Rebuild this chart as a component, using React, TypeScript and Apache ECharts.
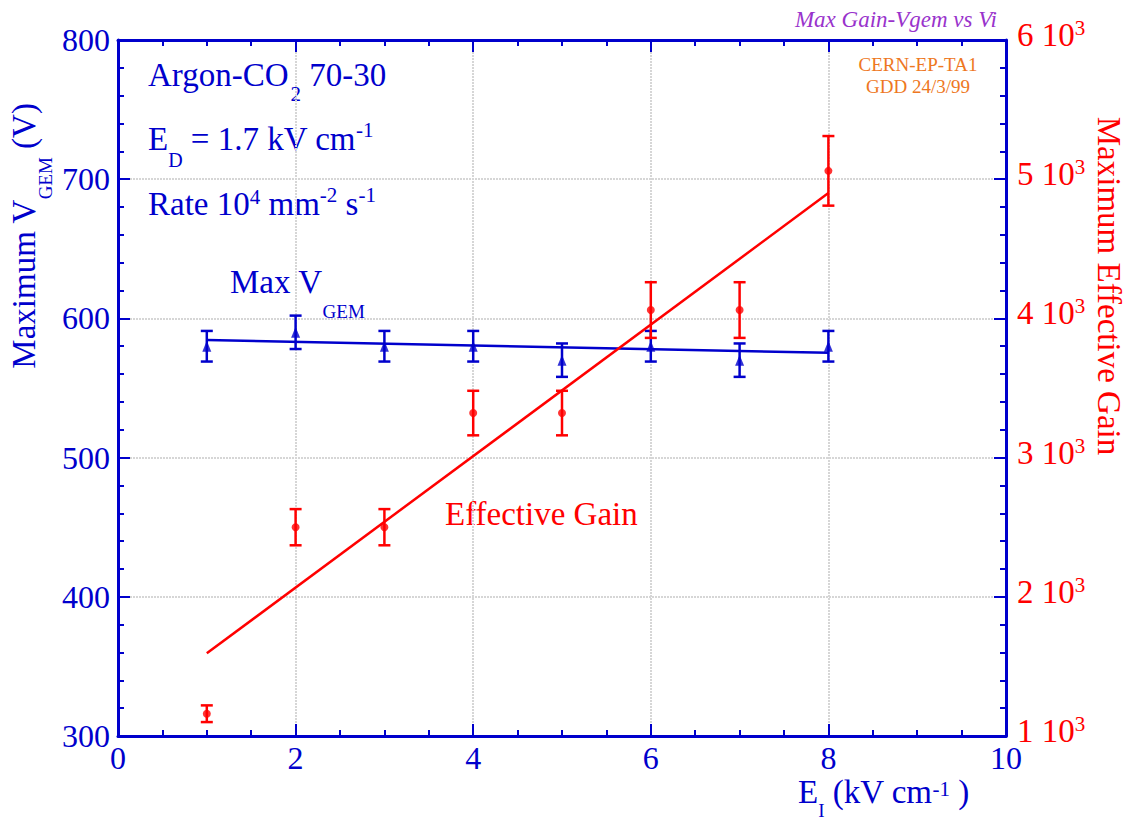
import React, { useEffect, useRef } from 'react';
import * as echarts from 'echarts';

// ---- data ----
const FIELD = [1, 2, 3, 4, 5, 6, 7, 8]; // E_I (kV/cm)
const VGEM = [580, 590, 580, 580, 570, 580, 570, 580]; // Max V_GEM (V)
const VGEM_ERR = [11, 12, 11, 11, 12, 11, 12, 11];
const GAIN = [1160, 2500, 2500, 3320, 3320, 4060, 4060, 5060]; // effective gain
const GAIN_ERR = [60, 130, 130, 160, 160, 200, 200, 250];
const FIT_X = [1, 8];
const VGEM_FIT = [584.5, 575.3];
const GAIN_FIT = [1594, 4900];
const GAIN_TICK_MANTISSA = ['1', '2', '3', '4', '5', '6'];

const FONT = 'Liberation Serif';
const BLUE = '#0000cc';
const RED = '#ff0000';
const GRID = '#d6d6d6';
const MAIN = 33;

function errRender(color: string) {
  return (params: any, api: any) => {
    const x = api.value(0);
    const y = api.value(1);
    const e = api.value(2);
    const top = api.coord([x, y + e]);
    const bot = api.coord([x, y - e]);
    const hw = 6;
    const style = { stroke: color, lineWidth: 2.5 };
    return {
      type: 'group',
      children: [
        { type: 'line', shape: { x1: top[0], y1: top[1], x2: bot[0], y2: bot[1] }, style },
        { type: 'line', shape: { x1: top[0] - hw, y1: top[1], x2: top[0] + hw, y2: top[1] }, style },
        { type: 'line', shape: { x1: bot[0] - hw, y1: bot[1], x2: bot[0] + hw, y2: bot[1] }, style },
      ],
    };
  };
}

function txt(text: string, x: number, y: number, color: string, extraRich: any, opts: any = {}) {
  return {
    type: 'text',
    x,
    y,
    rotation: opts.rotation || 0,
    silent: true,
    style: {
      text,
      fill: color,
      fontFamily: FONT,
      fontSize: MAIN,
      align: opts.align || 'left',
      verticalAlign: 'middle',
      rich: { m: { fontSize: MAIN, fontFamily: FONT, fill: color, color }, ...extraRich },
    },
  };
}

const sub = (fs: number, d: number, color: string, left = 0) => ({
  fontSize: fs,
  fontFamily: FONT,
  fill: color,
  color,
  padding: [d, 0, 0, left],
});
const sup = (fs: number, u: number, color: string) => ({
  fontSize: fs,
  fontFamily: FONT,
  fill: color,
  color,
  padding: [0, 0, u, 0],
});

export default function App() {
  const ref = useRef<HTMLDivElement>(null);

  useEffect(() => {
    if (!ref.current) return;
    const chart = echarts.init(ref.current, undefined, { renderer: 'svg' });

    const axisTickCommon = {
      show: true,
      inside: true,
      length: 12,
      lineStyle: { color: BLUE, width: 2 },
    };
    const minorTickCommon = {
      show: true,
      length: 6,
      lineStyle: { color: BLUE, width: 2 },
    };
    const axisLineCommon = { show: true, onZero: false, lineStyle: { color: BLUE, width: 3 } };
    const splitLineCommon = { show: true, lineStyle: { color: GRID, width: 2, type: [2, 1] as any } };

    const option: any = {
      animation: false,
      grid: { left: 118, right: 125, top: 40, bottom: 87, containLabel: false, outerBoundsMode: 'none' },
      xAxis: [
        {
          type: 'value',
          position: 'bottom',
          min: 0,
          max: 10,
          interval: 2,
          axisLine: axisLineCommon,
          axisTick: axisTickCommon,
          minorTick: { ...minorTickCommon, splitNumber: 4 },
          splitLine: splitLineCommon,
          axisLabel: { fontFamily: FONT, fontSize: 32, color: BLUE, margin: 6 },
        },
        {
          type: 'value',
          position: 'top',
          min: 0,
          max: 10,
          interval: 2,
          axisLine: axisLineCommon,
          axisTick: axisTickCommon,
          minorTick: { ...minorTickCommon, splitNumber: 4 },
          splitLine: { show: false },
          axisLabel: { show: false },
        },
      ],
      yAxis: [
        {
          type: 'value',
          position: 'left',
          min: 300,
          max: 800,
          interval: 100,
          axisLine: axisLineCommon,
          axisTick: axisTickCommon,
          minorTick: { ...minorTickCommon, splitNumber: 5 },
          splitLine: splitLineCommon,
          axisLabel: { fontFamily: FONT, fontSize: 32, color: BLUE, margin: 8 },
        },
        {
          type: 'value',
          position: 'right',
          min: 1000,
          max: 6000,
          interval: 1000,
          axisLine: axisLineCommon,
          axisTick: axisTickCommon,
          minorTick: { ...minorTickCommon, splitNumber: 5 },
          splitLine: { show: false },
          axisLabel: {
            margin: 11,
            padding: [0, 0, 10, 0],
            formatter: (v: number) => `{n|${GAIN_TICK_MANTISSA[Math.round(v / 1000) - 1]} 10}{s|3}`,
            rich: {
              n: { fontFamily: FONT, fontSize: 33, color: RED },
              s: { fontFamily: FONT, fontSize: 21, color: RED, padding: [0, 0, 14, 0] },
            },
          },
        },
      ],
      series: [
        {
          name: 'Max VGEM fit',
          type: 'line',
          xAxisIndex: 0,
          yAxisIndex: 0,
          data: FIT_X.map((x, i) => [x, VGEM_FIT[i]]),
          showSymbol: false,
          symbol: 'none',
          lineStyle: { color: BLUE, width: 2.5 },
          z: 2,
        },
        {
          name: 'Max VGEM err',
          type: 'custom',
          xAxisIndex: 0,
          yAxisIndex: 0,
          data: FIELD.map((x, i) => [x, VGEM[i], VGEM_ERR[i]]),
          renderItem: errRender(BLUE),
          z: 3,
        },
        {
          name: 'Max VGEM',
          type: 'scatter',
          xAxisIndex: 0,
          yAxisIndex: 0,
          data: FIELD.map((x, i) => [x, VGEM[i]]),
          symbol: 'triangle',
          symbolSize: [9, 11],
          itemStyle: { color: BLUE },
          z: 4,
        },
        {
          name: 'Gain fit',
          type: 'line',
          xAxisIndex: 0,
          yAxisIndex: 1,
          data: FIT_X.map((x, i) => [x, GAIN_FIT[i]]),
          showSymbol: false,
          symbol: 'none',
          lineStyle: { color: RED, width: 2.5 },
          z: 5,
        },
        {
          name: 'Gain err',
          type: 'custom',
          xAxisIndex: 0,
          yAxisIndex: 1,
          data: FIELD.map((x, i) => [x, GAIN[i], GAIN_ERR[i]]),
          renderItem: errRender(RED),
          z: 6,
        },
        {
          name: 'Effective Gain',
          type: 'scatter',
          xAxisIndex: 0,
          yAxisIndex: 1,
          data: FIELD.map((x, i) => [x, GAIN[i]]),
          symbol: 'circle',
          symbolSize: 8,
          itemStyle: { color: RED },
          z: 7,
        },
      ],
      graphic: [
        {
          type: 'text',
          x: 997,
          y: 19,
          silent: true,
          style: {
            text: 'Max Gain-Vgem vs Vi',
            fill: '#9933cc',
            fontFamily: FONT,
            fontStyle: 'italic',
            fontSize: 23,
            align: 'right',
            verticalAlign: 'middle',
          },
        },
        {
          type: 'text',
          x: 918,
          y: 64,
          silent: true,
          style: {
            text: 'CERN-EP-TA1',
            fill: '#ee7722',
            fontFamily: FONT,
            fontSize: 19,
            align: 'center',
            verticalAlign: 'middle',
          },
        },
        {
          type: 'text',
          x: 918,
          y: 86,
          silent: true,
          style: {
            text: 'GDD 24/3/99',
            fill: '#ee7722',
            fontFamily: FONT,
            fontSize: 19,
            align: 'center',
            verticalAlign: 'middle',
          },
        },
        txt('{m|Argon-CO}{b|2}{m| 70-30}', 148, 75, BLUE, { b: sub(21, 38, BLUE, 2) }),
        txt('{m|E}{b|D}{m| = 1.7 kV cm}{p|-1}', 148, 139, BLUE, {
          b: sub(20, 41, BLUE),
          p: sup(21, 18, BLUE),
        }),
        txt('{m|Rate 10}{q|4}{m| mm}{p|-2}{m| s}{p|-1}', 148, 204, BLUE, {
          q: sup(21, 14, BLUE),
          p: sup(21, 18, BLUE),
        }),
        txt('{m|Max V}{b|GEM}', 230, 282, BLUE, { b: sub(19, 59, BLUE) }),
        txt('{m|Effective Gain}', 445, 514, RED, {}),
        txt('{m|E}{b|I}{m| (kV cm}{p|-1}{m| )}', 798, 792, BLUE, {
          b: sub(19, 36, BLUE),
          p: sup(21, 6, BLUE),
        }),
        txt('{m|Maximum V}{b|GEM}{m| (V)}', 24, 236, BLUE, { b: sub(19, 43, BLUE) }, {
          rotation: Math.PI / 2,
          align: 'center',
        }),
        txt('{m|Maximum Effective Gain}', 1109, 286, RED, {}, {
          rotation: -Math.PI / 2,
          align: 'center',
        }),
      ],
    };

    chart.setOption(option);
    return () => chart.dispose();
  }, []);

  return (
    <div
      ref={ref}
      style={{ position: 'fixed', left: 0, top: 0, width: 1131, height: 823, background: '#ffffff' }}
    />
  );
}
